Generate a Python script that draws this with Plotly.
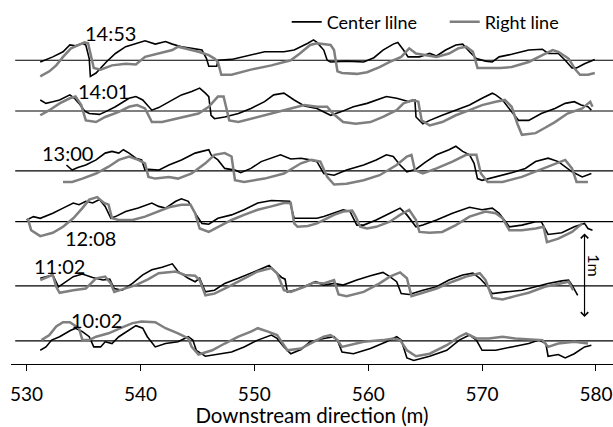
import plotly.graph_objects as go

# ---- data (x in m downstream, deviation in m from each time's baseline) ----
time_labels = ["14:53", "14:01", "13:00", "12:08", "11:02", "10:02"]
baseline_offsets = [3.573, 2.976, 2.271, 1.674, 0.918, 0.271]
label_x = [537.34, 536.73, 533.59, 535.6, 532.9, 536.12]
label_y = [3.894, 3.212, 2.488, 1.482, 1.153, 0.518]

center_1453 = [(531.2,-0.02),(532.3,0.04),(533.2,0.10),(533.8,0.18),(534.3,0.17),(534.9,0.20),(535.2,0.18),(535.5,0.02),(535.6,-0.19),(536.1,-0.15),(537.0,-0.02),(537.8,0.08),(538.7,0.16),(539.6,0.20),(540.4,0.23),(541.3,0.19),(542.2,0.22),(542.8,0.19),(543.6,0.16),(544.5,0.14),(545.4,0.12),(545.8,0.02),(546.0,-0.07),(546.7,-0.07),(546.8,0.0),(548.0,0.01),(549.7,0.06),(550.9,0.10),(552.6,0.10),(553.5,0.12),(554.7,0.20),(555.2,0.24),(555.5,0.21),(556.1,0.12),(556.4,0.0),(556.7,-0.02),(558.1,-0.01),(559.6,-0.02),(560.5,0.03),(561.3,0.12),(562.2,0.19),(562.6,0.21),(563.1,0.12),(563.5,0.04),(564.5,0.04),(565.4,0.08),(566.0,0.05),(566.8,0.12),(567.7,0.18),(568.3,0.19),(568.9,0.10),(569.5,0.02),(570.3,-0.01),(570.9,-0.02),(571.5,0.04),(572.6,0.07),(574.1,0.12),(575.3,0.13),(575.8,0.08),(576.7,0.08),(577.3,0.0),(577.9,-0.09),(578.3,-0.09),(579.0,-0.04),(579.9,0.01)]
right_1453 = [(531.2,-0.19),(532.0,-0.13),(532.6,-0.06),(533.2,0.04),(533.9,0.14),(534.6,0.18),(535.1,0.21),(535.4,0.20),(535.7,0.0),(535.9,-0.09),(536.5,-0.11),(537.5,-0.06),(538.7,-0.04),(539.6,-0.05),(540.4,0.04),(541.6,0.08),(542.8,0.12),(543.3,0.16),(544.2,0.13),(545.1,0.10),(546.0,0.06),(546.5,0.02),(546.8,-0.02),(547.1,-0.17),(548.0,-0.17),(549.7,-0.11),(551.5,-0.06),(553.2,0.0),(554.0,0.08),(554.9,0.18),(555.5,0.20),(556.7,0.18),(557.0,0.12),(557.3,-0.13),(557.7,-0.15),(559.0,-0.16),(559.9,-0.14),(561.0,-0.08),(561.9,-0.02),(562.9,0.04),(563.6,0.14),(564.2,0.08),(565.1,0.06),(566.0,0.04),(567.1,0.08),(567.9,0.14),(568.6,0.16),(569.2,0.10),(569.6,-0.09),(570.3,-0.09),(571.6,-0.09),(572.6,-0.08),(574.1,-0.02),(575.3,0.06),(576.2,0.12),(576.7,0.10),(577.6,0.02),(578.2,-0.11),(578.6,-0.17),(579.3,-0.17),(579.9,-0.15)]

center_1401 = [(531.2,0.13),(531.7,0.09),(532.3,0.11),(532.9,0.13),(533.8,0.19),(534.2,0.15),(534.6,0.09),(535.1,0.0),(535.5,-0.03),(536.4,-0.04),(536.9,-0.01),(537.8,0.05),(539.0,0.15),(539.6,0.17),(540.2,0.13),(541.0,0.01),(541.6,0.04),(542.5,0.11),(543.6,0.19),(544.5,0.23),(545.2,0.27),(545.7,0.21),(546.0,0.17),(546.2,-0.05),(546.5,-0.09),(547.4,-0.07),(548.6,-0.03),(549.7,0.03),(550.9,0.11),(551.7,0.19),(552.6,0.21),(553.5,0.13),(554.4,0.06),(555.5,0.03),(556.1,-0.01),(556.7,-0.05),(557.6,-0.01),(558.7,0.05),(559.9,0.09),(560.7,0.13),(561.6,0.17),(562.5,0.15),(563.6,0.11),(564.1,0.13),(564.2,-0.07),(564.8,-0.15),(565.4,-0.11),(566.5,-0.05),(567.7,0.01),(568.9,0.07),(570.0,0.15),(570.9,0.21),(571.2,0.19),(571.8,0.13),(572.6,-0.01),(573.2,-0.11),(574.1,-0.11),(575.2,-0.03),(576.4,0.03),(577.3,0.09),(578.1,0.11),(578.7,0.07),(579.3,0.05),(579.6,0.01)]
right_1401 = [(531.2,-0.05),(532.0,0.01),(532.9,0.09),(533.8,0.15),(534.3,0.17),(534.8,0.07),(535.2,-0.11),(536.1,-0.13),(536.9,-0.07),(538.1,-0.01),(539.0,0.05),(539.7,0.07),(540.4,0.03),(541.0,-0.13),(541.9,-0.13),(543.1,-0.09),(543.9,-0.07),(545.1,-0.03),(546.0,0.05),(546.8,0.17),(547.3,0.17),(547.5,0.07),(547.8,-0.11),(548.6,-0.13),(549.7,-0.09),(551.5,-0.03),(553.2,0.03),(554.4,0.07),(555.5,0.05),(556.4,0.05),(556.9,-0.03),(557.8,-0.13),(558.9,-0.15),(560.2,-0.13),(561.3,-0.07),(562.5,0.01),(563.1,0.09),(563.9,0.13),(564.4,0.11),(564.7,-0.11),(565.4,-0.17),(566.5,-0.13),(567.7,-0.05),(568.9,0.01),(570.0,0.07),(571.2,0.11),(572.0,0.13),(572.6,0.05),(573.1,-0.15),(573.5,-0.28),(574.7,-0.26),(575.5,-0.20),(576.4,-0.13),(577.5,-0.03),(578.8,0.03),(579.5,0.11),(579.7,0.05)]

center_1300 = [(533.5,0.07),(534.0,0.01),(534.5,0.04),(535.2,0.07),(536.1,0.13),(536.9,0.21),(537.5,0.23),(538.1,0.21),(538.5,0.25),(539.0,0.21),(539.6,0.15),(540.1,0.13),(540.4,0.01),(540.7,0.02),(541.6,0.01),(542.5,0.07),(543.6,0.13),(544.8,0.21),(545.4,0.23),(546.0,0.25),(546.2,0.19),(546.8,0.13),(547.4,0.03),(548.3,0.01),(548.8,-0.02),(549.7,0.03),(550.6,0.11),(551.5,0.15),(552.3,0.19),(553.2,0.14),(554.1,0.15),(554.9,0.13),(555.5,0.11),(556.1,-0.03),(557.0,-0.05),(558.1,0.01),(559.6,0.07),(560.7,0.13),(561.6,0.19),(562.2,0.17),(562.8,0.07),(563.4,-0.01),(564.2,0.02),(565.0,0.10),(566.0,0.19),(567.1,0.25),(567.7,0.29),(568.3,0.23),(568.9,0.19),(569.3,0.09),(569.6,-0.09),(570.0,-0.11),(571.2,-0.07),(572.6,-0.02),(573.8,0.03),(574.7,0.11),(575.8,0.15),(576.7,0.11),(577.9,-0.01),(578.8,-0.07),(579.6,-0.03)]
right_1300 = [(533.2,-0.13),(534.0,-0.13),(534.9,-0.09),(536.1,-0.03),(537.2,0.05),(538.1,0.13),(539.0,0.17),(539.8,0.13),(540.4,0.09),(540.7,-0.07),(541.3,-0.09),(542.5,-0.07),(543.3,-0.09),(544.5,-0.03),(545.7,0.09),(546.5,0.19),(547.4,0.21),(548.0,0.17),(548.3,-0.11),(549.1,-0.13),(550.9,-0.09),(552.6,-0.03),(554.1,0.09),(555.0,0.13),(555.8,0.11),(556.4,-0.07),(557.0,-0.16),(558.1,-0.15),(559.6,-0.11),(561.0,-0.05),(562.5,0.07),(563.4,0.17),(563.8,0.19),(564.1,0.01),(564.8,-0.03),(566.0,0.03),(567.4,0.11),(568.6,0.19),(569.5,0.19),(569.9,-0.03),(570.5,-0.13),(571.8,-0.13),(573.5,-0.07),(575.0,0.01),(576.4,0.09),(577.3,0.13),(577.9,0.03),(578.3,-0.13),(579.3,-0.13)]

center_1208 = [(530.0,0.02),(530.6,0.06),(531.2,0.04),(532.3,0.10),(533.2,0.16),(534.1,0.22),(534.6,0.20),(535.2,0.24),(535.8,0.22),(536.4,0.26),(536.9,0.18),(537.4,0.04),(537.8,0.06),(538.7,0.12),(539.8,0.16),(541.0,0.22),(541.6,0.18),(542.2,0.16),(543.1,0.24),(543.6,0.27),(544.2,0.24),(544.8,0.10),(545.4,-0.02),(546.0,-0.03),(546.8,0.04),(548.0,0.08),(549.1,0.14),(550.3,0.22),(551.5,0.25),(552.6,0.24),(553.1,0.24),(553.5,0.04),(554.4,0.04),(555.5,0.04),(556.1,0.06),(557.0,0.10),(557.8,0.14),(558.4,0.12),(559.0,-0.04),(559.6,-0.04),(560.7,0.02),(561.9,0.10),(562.8,0.16),(563.4,0.08),(564.2,-0.06),(564.8,-0.04),(566.0,0.02),(567.4,0.10),(568.9,0.17),(570.0,0.14),(570.9,0.16),(571.5,0.10),(572.4,-0.06),(573.5,-0.04),(574.7,0.0),(575.2,0.0),(575.8,-0.15),(577.0,-0.13),(578.1,-0.06),(579.0,-0.02),(579.3,-0.08),(579.7,-0.10)]
right_1208 = [(530.1,0.04),(530.4,-0.10),(531.2,-0.17),(532.3,-0.13),(533.2,-0.06),(534.1,0.04),(534.9,0.16),(535.5,0.26),(536.2,0.29),(536.8,0.22),(537.2,0.20),(537.5,0.04),(538.1,0.02),(539.3,0.02),(540.4,0.06),(541.6,0.12),(542.5,0.17),(543.6,0.20),(544.4,0.20),(544.8,0.10),(545.2,-0.08),(546.0,-0.12),(546.8,-0.06),(548.0,0.02),(549.1,0.08),(550.3,0.14),(551.5,0.18),(552.6,0.22),(553.2,0.22),(553.5,-0.02),(553.8,-0.06),(554.7,-0.05),(555.5,-0.02),(556.1,0.02),(557.0,0.08),(557.8,0.12),(558.6,0.13),(558.9,0.06),(559.3,-0.06),(559.9,-0.08),(560.7,-0.06),(561.9,0.0),(562.8,0.08),(563.6,0.14),(564.2,0.02),(564.5,-0.12),(565.4,-0.13),(566.5,-0.12),(567.7,-0.04),(568.9,0.06),(570.3,0.12),(571.2,0.10),(571.8,0.04),(572.4,-0.10),(573.5,-0.10),(574.7,-0.08),(575.4,-0.06),(575.7,-0.24),(576.7,-0.20),(577.9,-0.12),(578.8,-0.02)]

center_1102 = [(531.2,0.09),(531.7,0.11),(532.3,0.13),(532.8,-0.01),(533.2,0.03),(534.1,0.11),(534.9,0.14),(535.8,0.10),(536.7,0.07),(537.3,0.08),(537.7,-0.03),(538.4,-0.05),(539.3,0.03),(540.2,0.13),(541.0,0.19),(541.9,0.22),(542.8,0.26),(543.3,0.17),(544.2,0.09),(544.8,0.05),(545.2,0.09),(545.7,-0.07),(546.5,-0.05),(547.4,0.03),(548.6,0.09),(549.7,0.15),(550.9,0.21),(551.3,0.24),(551.9,0.16),(552.4,0.10),(552.7,0.08),(552.9,-0.07),(553.8,-0.04),(554.7,0.01),(555.4,0.05),(556.1,0.01),(557.0,0.03),(557.8,0.01),(559.0,0.07),(560.2,0.12),(561.3,0.16),(561.9,0.11),(562.5,0.05),(562.9,-0.09),(563.6,-0.10),(564.8,-0.05),(566.0,-0.01),(567.1,0.07),(568.3,0.13),(569.2,0.15),(569.8,0.09),(570.5,-0.01),(570.9,-0.09),(572.1,-0.07),(573.5,-0.05),(574.7,-0.01),(575.8,0.03),(577.0,0.06),(577.6,0.07),(577.9,0.01),(578.4,-0.11)]
right_1102 = [(531.2,0.07),(532.0,0.12),(532.3,0.13),(532.6,-0.01),(532.9,-0.08),(534.1,-0.05),(535.2,-0.03),(536.1,0.09),(536.9,0.11),(537.4,0.03),(537.7,-0.07),(538.4,-0.04),(539.6,0.01),(540.7,0.08),(541.6,0.15),(543.1,0.17),(543.9,0.13),(544.8,0.12),(545.2,0.07),(545.7,-0.11),(546.5,-0.09),(547.7,-0.01),(549.1,0.09),(550.3,0.17),(551.5,0.21),(552.0,0.15),(552.6,-0.05),(553.2,-0.07),(554.4,-0.01),(555.2,0.04),(556.1,0.03),(557.0,0.07),(557.4,-0.10),(558.1,-0.12),(559.6,-0.07),(561.0,0.03),(561.9,0.11),(562.8,0.16),(563.4,0.09),(563.8,-0.12),(564.8,-0.08),(566.0,-0.03),(567.4,0.05),(568.6,0.11),(569.8,0.15),(570.3,0.07),(570.9,-0.14),(571.8,-0.16),(572.9,-0.12),(574.1,-0.08),(575.5,-0.01),(577.0,0.03),(577.6,0.05),(578.0,-0.05)]

center_1002 = [(531.2,-0.11),(531.7,-0.07),(532.2,0.01),(532.9,0.05),(533.8,0.12),(534.3,0.15),(534.9,0.11),(535.5,0.05),(535.9,-0.07),(536.5,-0.07),(536.9,-0.01),(537.5,-0.03),(538.1,0.05),(539.0,0.13),(539.6,0.18),(540.2,0.15),(540.6,0.05),(541.3,-0.07),(542.2,-0.03),(543.3,-0.01),(544.2,0.05),(544.6,0.01),(544.9,-0.11),(545.7,-0.18),(546.8,-0.16),(548.0,-0.13),(549.1,-0.07),(550.3,0.01),(551.5,0.07),(552.0,0.03),(552.6,-0.07),(553.2,-0.15),(554.1,-0.10),(554.9,-0.01),(556.1,0.03),(557.0,0.05),(557.3,0.01),(557.7,-0.13),(558.7,-0.15),(560.2,-0.09),(561.6,-0.01),(562.5,0.05),(562.9,0.01),(563.4,-0.20),(564.0,-0.23),(565.4,-0.18),(566.9,-0.11),(568.0,0.01),(568.9,0.07),(569.5,0.01),(570.0,-0.11),(571.2,-0.11),(572.6,-0.07),(574.1,-0.03),(575.0,0.01),(575.6,-0.03),(575.8,-0.18),(576.7,-0.16),(577.3,-0.20),(578.1,-0.15),(579.0,-0.07),(579.6,-0.05)]
right_1002 = [(531.3,0.01),(532.0,0.07),(532.6,0.17),(533.2,0.22),(533.8,0.22),(534.3,0.17),(534.6,0.15),(534.9,0.01),(535.5,0.01),(536.1,0.05),(537.2,0.09),(538.4,0.16),(539.3,0.21),(540.1,0.23),(541.3,0.22),(542.2,0.15),(543.3,0.09),(544.2,0.03),(544.5,-0.07),(545.1,-0.16),(546.3,-0.11),(547.4,-0.03),(548.6,0.05),(549.7,0.11),(550.3,0.15),(551.2,0.11),(552.0,0.07),(552.9,-0.11),(554.1,-0.09),(555.2,-0.01),(556.1,0.05),(556.7,0.07),(557.3,0.01),(557.7,-0.07),(558.4,-0.05),(559.6,-0.01),(561.3,0.01),(562.2,0.03),(562.8,0.01),(563.4,-0.11),(564.2,-0.18),(565.4,-0.15),(566.9,-0.05),(568.0,0.05),(568.6,0.09),(569.5,0.03),(570.6,0.03),(571.8,0.05),(572.9,0.03),(574.1,0.02),(575.3,0.01),(575.8,-0.07),(576.7,-0.03),(578.1,-0.01),(579.3,-0.03)]

center_lines = [center_1453, center_1401, center_1300, center_1208, center_1102, center_1002]
right_lines = [right_1453, right_1401, right_1300, right_1208, right_1102, right_1002]

x_range = [528.63, 581.5]
baseline_x = [529.0, 581.5]
scale_bar = [0.553, 1.553]   # 1 m reference
scale_x = 579.0

FONT = "Lato"
BLACK = "#000000"
GRAY = "#7f7f7f"

fig = go.Figure()

for i, off in enumerate(baseline_offsets):
    fig.add_trace(go.Scatter(x=baseline_x, y=[off, off], mode="lines",
                             line=dict(color=BLACK, width=1.2),
                             showlegend=False, hoverinfo="skip"))

for i, off in enumerate(baseline_offsets):
    cx = [p[0] for p in center_lines[i]]
    cy = [p[1] + off for p in center_lines[i]]
    rx = [p[0] for p in right_lines[i]]
    ry = [p[1] + off for p in right_lines[i]]
    fig.add_trace(go.Scatter(x=cx, y=cy, mode="lines", name="Center lilne",
                             line=dict(color=BLACK, width=1.6),
                             legendgroup="c", showlegend=(i == 0)))
    fig.add_trace(go.Scatter(x=rx, y=ry, mode="lines", name="Right line",
                             line=dict(color=GRAY, width=2.5),
                             legendgroup="r", showlegend=(i == 0)))

annotations = []
for t, lx, ly in zip(time_labels, label_x, label_y):
    annotations.append(dict(x=lx, y=ly, xref="x", yref="y", text=t,
                            showarrow=False, font=dict(family=FONT, size=20, color=BLACK)))

annotations.append(dict(x=scale_x, y=scale_bar[0], ax=scale_x, ay=scale_bar[1],
                        xref="x", yref="y", axref="x", ayref="y", text="",
                        showarrow=True, arrowhead=4, startarrowhead=4,
                        arrowside="end+start", arrowsize=1.2, arrowwidth=1.2,
                        arrowcolor=BLACK))
annotations.append(dict(x=579.8, y=1.165, xref="x", yref="y", text="1m",
                        textangle=90, showarrow=False,
                        font=dict(family=FONT, size=16, color=BLACK)))

fig.update_layout(
    width=613, height=427,
    margin=dict(l=11, r=0, t=0, b=63, autoexpand=False),
    paper_bgcolor="white", plot_bgcolor="white",
    font=dict(family=FONT, size=18, color=BLACK),
    showlegend=True,
    legend=dict(orientation="h", x=0.458, xanchor="left", y=0.99, yanchor="top",
                font=dict(family=FONT, size=18, color=BLACK),
                bgcolor="rgba(0,0,0,0)", entrywidth=113, itemwidth=30),
    annotations=annotations,
    xaxis=dict(range=x_range, tick0=530, dtick=10, automargin=False,
               showline=True, linecolor=BLACK, linewidth=1.2,
               ticks="outside", ticklen=6, tickcolor=BLACK, tickwidth=1.2,
               ticklabelstandoff=7, ticklabeloverflow="allow",
               showgrid=False, zeroline=False,
               tickfont=dict(family=FONT, size=19, color=BLACK),
               title=dict(text="Downstream direction (m)",
                          font=dict(family=FONT, size=20.5, color=BLACK), standoff=17)),
    yaxis=dict(range=[0, 4.282], visible=False, showgrid=False, zeroline=False),
)

fig.write_html("out.html")
